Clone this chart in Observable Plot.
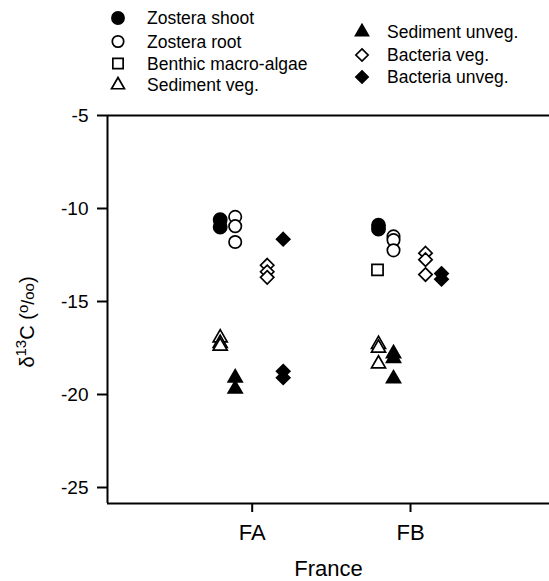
<!DOCTYPE html>
<html><head><meta charset="utf-8">
<script src="https://cdn.jsdelivr.net/npm/d3@7"></script>
<script src="https://cdn.jsdelivr.net/npm/@observablehq/plot@0.6"></script>
<style>
body{margin:0;background:#fff;font-family:"Liberation Sans",Arial,Helvetica,sans-serif;}
#wrap{position:relative;width:549px;height:581px;overflow:hidden;}
#legend{position:absolute;left:0;top:0;width:549px;height:100px;}
#chart{position:absolute;left:0;top:100px;}
.li{position:absolute;font-size:17.5px;line-height:20px;white-space:nowrap;color:#000;}
</style></head><body>
<div id="wrap"><div id="legend"></div><div id="chart"></div></div>
<script>
// ---- data ----
const sites = ["FA", "FB"];
const seriesNames = ["Zostera shoot", "Zostera root", "Benthic macro-algae", "Sediment veg.", "Sediment unveg.", "Bacteria veg.", "Bacteria unveg."];
const zosteraShootFA = [-10.6, -11.0];
const zosteraShootFB = [-10.9, -11.1];
const zosteraRootFA = [-10.45, -10.95, -11.8];
const zosteraRootFB = [-11.5, -11.7, -12.25];
const algaeFA = [];
const algaeFB = [-13.3];
const sedVegFA = [-16.95, -17.25, -17.4];
const sedVegFB = [-17.3, -17.5, -18.35];
const sedUnvegFA = [-19.1, -19.7];
const sedUnvegFB = [-17.8, -18.05, -19.15];
const bactVegFA = [-13.05, -13.4, -13.7];
const bactVegFB = [-12.4, -12.75, -13.55];
const bactUnvegFA = [-11.65, -18.75, -19.1];
const bactUnvegFB = [-13.5, -13.8];
const yTicks = [-5, -10, -15, -20, -25];
const xLabel = "France";

// ---- styles (not data) ----
const styles = [
  {symbol: "circle",   fill: true,  dx: -32, r: 6.6},
  {symbol: "circle",   fill: false, dx: -17, r: 6.2},
  {symbol: "square",   fill: false, dx: -33, r: 6.3},
  {symbol: "triangle", fill: false, dx: -32, r: 5.2},
  {symbol: "triangle", fill: true,  dx: -17, r: 5.2},
  {symbol: "diamond2", fill: false, dx: 15,  r: 6.0},
  {symbol: "diamond2", fill: true,  dx: 31,  r: 6.0}
];
const seriesValues = [
  [zosteraShootFA, zosteraShootFB],
  [zosteraRootFA, zosteraRootFB],
  [algaeFA, algaeFB],
  [sedVegFA, sedVegFB],
  [sedUnvegFA, sedUnvegFB],
  [bactVegFA, bactVegFB],
  [bactUnvegFA, bactUnvegFB]
];

const rows = [];
seriesNames.forEach((name, si) => {
  seriesValues[si].forEach((vals, k) => {
    vals.forEach(v => rows.push({series: name, si, site: k + 1, value: v}));
  });
});

const yDomain = [-25.86, -5];
const xDomain = [0.086, 2.878];

const dotMarks = styles.map((s, si) => Plot.dot(rows.filter(d => d.si === si), {
  x: "site", y: "value", dx: s.dx, r: s.r, symbol: () => s.symbol,
  fill: s.fill ? "black" : "white", stroke: "black", strokeWidth: 1.7
}));

const plot = Plot.plot({
  width: 549, height: 481,
  marginLeft: 107, marginRight: 0, marginTop: 15, marginBottom: 78,
  x: {domain: xDomain},
  y: {domain: yDomain},
  symbol: {type: "identity"},
  style: {fontFamily: "'Liberation Sans', Arial, Helvetica, sans-serif", background: "white", color: "black", overflow: "visible"},
  marks: [
    Plot.axisY({ticks: yTicks, tickFormat: d => String(d), tickSize: 10, tickPadding: 9, fontSize: 19, label: null, strokeWidth: 2}),
    Plot.axisX({ticks: [1, 2], tickFormat: d => sites[d - 1], tickSize: 9, tickPadding: 12, fontSize: 22,
                label: xLabel, labelAnchor: "center", labelOffset: 72, labelArrow: "none", strokeWidth: 2}),
    Plot.ruleY(yDomain, {strokeWidth: 2}),
    Plot.ruleX([xDomain[0]], {strokeWidth: 2}),
    ...dotMarks
  ]
});
document.getElementById("chart").appendChild(plot);

// y-axis label with super/subscripts
const svg = d3.select(plot);
const yl = svg.append("text")
  .attr("transform", "translate(34,222) rotate(-90)")
  .attr("text-anchor", "middle")
  .attr("font-size", 20)
  .attr("fill", "black");
yl.append("tspan").text("δ");
yl.append("tspan").attr("baseline-shift", "super").attr("font-size", 15).text("13");
yl.append("tspan").text("C (");
yl.append("tspan").attr("baseline-shift", "40%").attr("font-size", 15).text("o");
yl.append("tspan").attr("font-size", 18).text("/");
yl.append("tspan").attr("font-size", 15).text("oo");
yl.append("tspan").text(")");

// ---- legend ----
const legendPos = [
  {sx: 118, tx: 147, y: 18},
  {sx: 118, tx: 147, y: 41.5},
  {sx: 118, tx: 147, y: 63.5},
  {sx: 118, tx: 147, y: 85},
  {sx: 362, tx: 387, y: 32},
  {sx: 362, tx: 387, y: 55},
  {sx: 362, tx: 387, y: 77}
];
const symMap = {circle: d3.symbolCircle, square: d3.symbolSquare, triangle: d3.symbolTriangle, diamond2: d3.symbolDiamond2};
const leg = d3.select("#legend");
const lsvg = leg.append("svg").attr("width", 549).attr("height", 100).style("position", "absolute").style("left", 0).style("top", 0);
seriesNames.forEach((name, i) => {
  const s = styles[i], p = legendPos[i];
  lsvg.append("path")
    .attr("d", d3.symbol(symMap[s.symbol], Math.PI * s.r * s.r * 0.85)())
    .attr("transform", `translate(${p.sx},${p.y})`)
    .attr("fill", s.fill ? "black" : "white")
    .attr("stroke", "black").attr("stroke-width", 1.7);
  leg.append("div").attr("class", "li")
    .style("left", p.tx + "px").style("top", (p.y - 10) + "px")
    .text(name);
});
</script>
</body></html>
